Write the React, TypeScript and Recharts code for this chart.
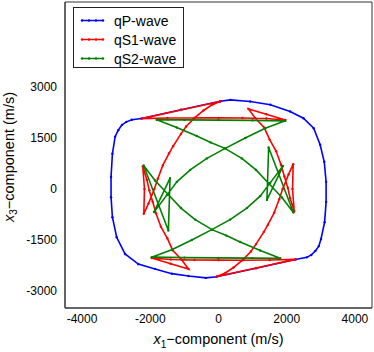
import { ReferenceArea, Scatter, ScatterChart, XAxis, YAxis } from "recharts"

// axis ticks
const xTicks = [-4000, -2000, 0, 2000, 4000]
const yTicks = [-3000, -1500, 0, 1500, 3000]

// qP wave front (x1, x3) in m/s, traced round the curve
const qpWave: [number, number][] = [
  [50, 2580], [350, 2620], [930, 2575], [1520, 2480], [2100, 2280], [2490, 2080],
  [2790, 1790], [2980, 1300], [3100, 800], [3155, 210], [3155, -380], [3110, -980],
  [3005, -1470], [2940, -1680], [2840, -1820], [2720, -1940], [2590, -2010], [2260, -2075],
  [1100, -2330], [-50, -2580], [-370, -2615], [-880, -2560], [-1370, -2490], [-1860, -2350],
  [-2350, -2210], [-2740, -1910], [-2985, -1420], [-3110, -830], [-3150, -240], [-3150, 355],
  [-3110, 1040], [-3030, 1540], [-2940, 1730], [-2830, 1885], [-2700, 1975], [-2540, 2035],
  [-2260, 2075], [-1100, 2330], [50, 2580],
]

// qS1 wave front, with the cusps
const qs1Wave: [number, number][] = [
  [50, 2575], [-1100, 2325], [-2250, 2070],
  [-1500, 2090], [-700, 2095], [0, 2092], [700, 2087], [1400, 2072], [1960, 2030],
  [1400, 2200], [880, 2355],
  [1080, 2080], [1343, 1800], [1500, 1450], [1690, 1110], [1830, 720], [1932, 370],
  [2030, 40], [2100, -270], [2220, -660],
  [2170, 0], [2190, 730],
  [2054, 430], [1880, 0], [1780, -300], [1630, -700], [1450, -1050], [1330, -1260],
  [1100, -1620], [950, -1840], [734, -2060], [440, -2310], [200, -2470], [-50, -2575],
  [1100, -2325], [2250, -2070],
  [1500, -2090], [700, -2095], [0, -2092], [-700, -2087], [-1400, -2072], [-1960, -2030],
  [-1400, -2200], [-880, -2355],
  [-1080, -2080], [-1343, -1800], [-1500, -1450], [-1690, -1110], [-1830, -720], [-1932, -370],
  [-2030, -40], [-2100, 270], [-2220, 660],
  [-2170, 0], [-2190, -730],
  [-2054, -430], [-1880, 0], [-1780, 300], [-1630, 700], [-1450, 1050], [-1330, 1260],
  [-1100, 1620], [-950, 1840], [-734, 2060], [-440, 2310], [-200, 2470], [50, 2575],
]

// qS2 wave front
const qs2Wave: [number, number][] = [
  [-1808, 2038], [-1000, 2032], [0, 2026], [1000, 2018], [1957, 2004],
  [1370, 1788], [783, 1500], [197, 1196], [-340, 900], [-830, 562], [-1221, 210],
  [-1514, -180], [-1890, -675],
  [-1420, 320], [-1470, -1220], [-2195, 690],
  [-1860, 250], [-1467, -170], [-1100, -560], [-684, -900], [-176, -1202], [230, -1370],
  [637, -1560], [1224, -1810], [1808, -2038],
  [1000, -2032], [0, -2026], [-1000, -2018], [-1957, -2004],
  [-1370, -1788], [-783, -1500], [-197, -1196], [340, -900], [830, -562], [1221, -210],
  [1514, 180], [1890, 675],
  [1420, -320], [1470, 1220], [2195, -690],
  [1860, -250], [1467, 170], [1100, 560], [684, 900], [176, 1202], [-230, 1370],
  [-637, 1560], [-1224, 1810], [-1808, 2038],
]

const series = [
  { name: "qP-wave", color: "#0000ff", pts: qpWave },
  { name: "qS1-wave", color: "#ff0000", pts: qs1Wave },
  { name: "qS2-wave", color: "#008000", pts: qs2Wave },
]

const font = '"Liberation Sans", Arial, sans-serif'
const frame = "#333"
const tickStyle = { fill: "#000", fontSize: 12, fontFamily: font }

const dot = (color: string) => (p: any) => <circle cx={p.cx} cy={p.cy} r={1.2} fill={color} />

export default function App() {
  return (
    <div style={{ position: "absolute", left: 0, top: 0, width: 374, height: 352, background: "#fff", fontFamily: font }}>
      <ScatterChart width={374} height={352} margin={{ top: 2, right: 2, bottom: 0, left: 0 }}>
        <XAxis
          type="number"
          dataKey="x"
          domain={[-4500, 4500]}
          ticks={xTicks}
          allowDataOverflow
          tickLine={false}
          tickSize={0}
          tickMargin={6}
          height={44}
          stroke={frame}
          tick={tickStyle}
        />
        <YAxis
          type="number"
          dataKey="y"
          domain={[-3500, 5500]}
          ticks={yTicks}
          allowDataOverflow
          tickLine={false}
          tickSize={0}
          tickMargin={8}
          width={65}
          stroke={frame}
          tick={tickStyle}
        />
        {/* box round the plot */}
        <ReferenceArea x1={-4500} x2={4500} y1={-3500} y2={5500} fill="none" stroke={frame} strokeWidth={1} ifOverflow="visible" />
        {series.map((s) => (
          <Scatter
            key={s.name}
            name={s.name}
            data={s.pts.map(([x, y]) => ({ x, y }))}
            line={{ stroke: s.color, strokeWidth: 1.6 }}
            lineJointType="linear"
            shape={dot(s.color)}
            isAnimationActive={false}
          />
        ))}
      </ScatterChart>

      {/* legend */}
      <div style={{ position: "absolute", left: 73, top: 7, width: 111, height: 61, border: "1px solid #222", background: "#fff", boxSizing: "border-box" }}>
        {series.map((s, i) => (
          <div key={s.name} style={{ position: "absolute", left: 0, top: 4 + i * 19, height: 17, display: "flex", alignItems: "center" }}>
            <svg width={40} height={17} style={{ display: "block" }}>
              <line x1={8} x2={29} y1={8.5} y2={8.5} stroke={s.color} strokeWidth={1.5} />
              {[8, 15, 22, 29].map((cx) => (
                <circle key={cx} cx={cx} cy={8.5} r={1.2} fill={s.color} />
              ))}
            </svg>
            <span style={{ fontSize: 14, color: "#000" }}>{s.name}</span>
          </div>
        ))}
      </div>

      {/* axis titles */}
      <div style={{ position: "absolute", left: 0, width: 437, top: 331, textAlign: "center", fontSize: 14.5, color: "#000", whiteSpace: "nowrap" }}>
        <i>x</i><sub style={{ fontSize: 10 }}>1</sub>−component (m/s)
      </div>
      <div style={{ position: "absolute", left: 10, top: 157, width: 0, height: 0 }}>
        <div style={{ position: "absolute", transform: "translate(-50%, -50%) rotate(-90deg)", fontSize: 14.5, color: "#000", whiteSpace: "nowrap" }}>
          <i>x</i><sub style={{ fontSize: 10 }}>3</sub>−component (m/s)
        </div>
      </div>
    </div>
  )
}
